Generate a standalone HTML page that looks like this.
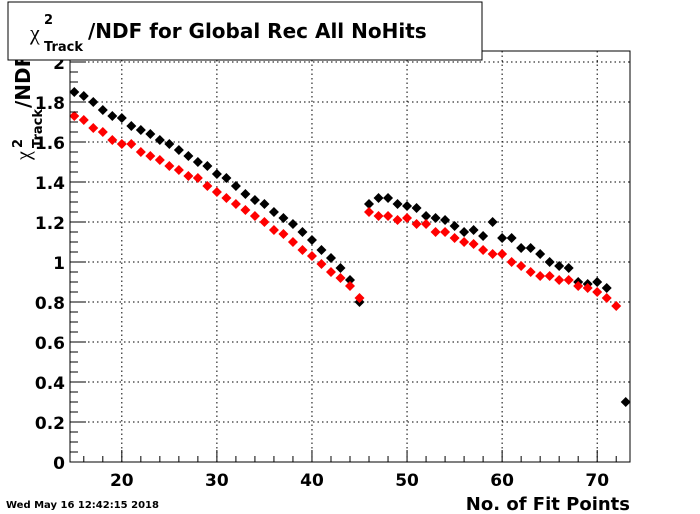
<!DOCTYPE html>
<html><head><meta charset="utf-8"><style>
body{margin:0;background:#fff;}
svg{display:block;font-family:"DejaVu Sans","Liberation Sans",sans-serif;}
</style></head><body>
<svg width="700" height="514" viewBox="0 0 700 514">
<g id="grid"></g>
<g id="marks"></g>
<rect x="70" y="51" width="560" height="411" fill="none" stroke="#000" stroke-width="1"/>
<g id="axes"></g>
<g transform="translate(30,160) rotate(-90)">
<text x="0" y="0" font-size="20" font-family="Liberation Serif,serif">χ</text>
<text x="12" y="-8" font-size="13" font-weight="bold">2</text>
<text x="12" y="12" font-size="13" font-weight="bold">Track</text>
<text x="52" y="0" font-size="20" font-weight="bold">/NDF</text>
</g>
<rect x="8" y="2" width="474" height="58" fill="#fff" stroke="#000"/>
<g>
<text x="30" y="40" font-size="22" font-family="Liberation Serif,serif">χ</text>
<text x="44" y="24" font-size="13" font-weight="bold">2</text>
<text x="44" y="51" font-size="13" font-weight="bold">Track</text>
<text x="88" y="38" font-size="20" font-weight="bold">/NDF for Global Rec All NoHits</text>
</g>
<text x="630" y="510" font-size="18" font-weight="bold" text-anchor="end">No. of Fit Points</text>
<text x="6" y="508" font-size="10" font-weight="bold">Wed May 16 12:42:15 2018</text>
</svg>
<script>
const xTicks=[20,30,40,50,60,70];
const yTicks=[0,0.2,0.4,0.6,0.8,1,1.2,1.4,1.6,1.8,2];
const yTickLabels=["0","0.2","0.4","0.6","0.8","1","1.2","1.4","1.6","1.8","2"];
const blackX=[15,16,17,18,19,20,21,22,23,24,25,26,27,28,29,30,31,32,33,34,35,36,37,38,39,40,41,42,43,44,45,46,47,48,49,50,51,52,53,54,55,56,57,58,59,60,61,62,63,64,65,66,67,68,69,70,71,73];
const blackY=[1.85,1.83,1.80,1.76,1.73,1.72,1.68,1.66,1.64,1.61,1.59,1.56,1.53,1.50,1.48,1.44,1.42,1.38,1.34,1.31,1.29,1.25,1.22,1.19,1.15,1.11,1.06,1.02,0.97,0.91,0.80,1.29,1.32,1.32,1.29,1.28,1.27,1.23,1.22,1.21,1.18,1.15,1.16,1.13,1.20,1.12,1.12,1.07,1.07,1.04,1.00,0.98,0.97,0.90,0.89,0.90,0.87,0.30];
const redX=[15,16,17,18,19,20,21,22,23,24,25,26,27,28,29,30,31,32,33,34,35,36,37,38,39,40,41,42,43,44,45,46,47,48,49,50,51,52,53,54,55,56,57,58,59,60,61,62,63,64,65,66,67,68,69,70,71,72];
const redY=[1.73,1.71,1.67,1.65,1.61,1.59,1.59,1.55,1.53,1.51,1.48,1.46,1.43,1.42,1.38,1.35,1.32,1.29,1.26,1.23,1.20,1.16,1.14,1.10,1.06,1.03,0.99,0.95,0.92,0.88,0.82,1.25,1.23,1.23,1.21,1.22,1.19,1.19,1.15,1.15,1.12,1.10,1.09,1.06,1.04,1.04,1.00,0.98,0.95,0.93,0.93,0.91,0.91,0.88,0.87,0.85,0.82,0.78];
const L=70,R=630,T=51,B=462,xmin=14.55,xmax=73.45;
const sx=v=>L+(v-xmin)/(xmax-xmin)*(R-L);
const sy=v=>B-v*200;
const NS="http://www.w3.org/2000/svg";
function mk(tag,attrs,parent){const e=document.createElementNS(NS,tag);for(const k in attrs)e.setAttribute(k,attrs[k]);parent.appendChild(e);return e;}
const grid=document.getElementById('grid'),axes=document.getElementById('axes'),marks=document.getElementById('marks');
xTicks.forEach(t=>{const x=sx(t);
 const g=mk('line',{x1:x,x2:x,y1:T,y2:B,stroke:'#000','stroke-dasharray':'1.5,3','stroke-width':1},grid);
 
 const tk=mk('line',{x1:x,x2:x,y1:B,y2:B-12,stroke:'#000'},axes);
 
 const tx=mk('text',{x:x,y:B+24,'font-size':17,'font-weight':'bold','text-anchor':'middle'},axes);tx.textContent=t;
 });
for(let v=16;v<=72;v+=2){if(v%10===0)continue;const x=sx(v);
 const m=mk('line',{x1:x,x2:x,y1:B,y2:B-6,stroke:'#000'},axes);
 }
yTicks.forEach((t,i)=>{const y=sy(t);
 if(t>0){const g=mk('line',{x1:L,x2:R,y1:y,y2:y,stroke:'#000','stroke-dasharray':'1.5,3','stroke-width':1},grid);
 }
 const tk=mk('line',{x1:L,x2:L+16,y1:y,y2:y,stroke:'#000'},axes);
 
 const tx=mk('text',{x:L-5,y:y+7,'font-size':17,'font-weight':'bold','text-anchor':'end'},axes);tx.textContent=yTickLabels[i];
 });
for(let k=1;k<=41;k++){if(k%4===0)continue;const y=sy(k*0.05);
 const m=mk('line',{x1:L,x2:L+8,y1:y,y2:y,stroke:'#000'},axes);
 }
function diamond(x,y,c,name){const r=5;
 const p=mk('polygon',{points:`${x},${y-r} ${x+r},${y} ${x},${y+r} ${x-r},${y}`,fill:c},marks);
 }
blackX.forEach((v,i)=>diamond(sx(v),sy(blackY[i]),'#000','black-point'));
redX.forEach((v,i)=>diamond(sx(v),sy(redY[i]),'#f00','red-point'));
</script>
</body></html>
